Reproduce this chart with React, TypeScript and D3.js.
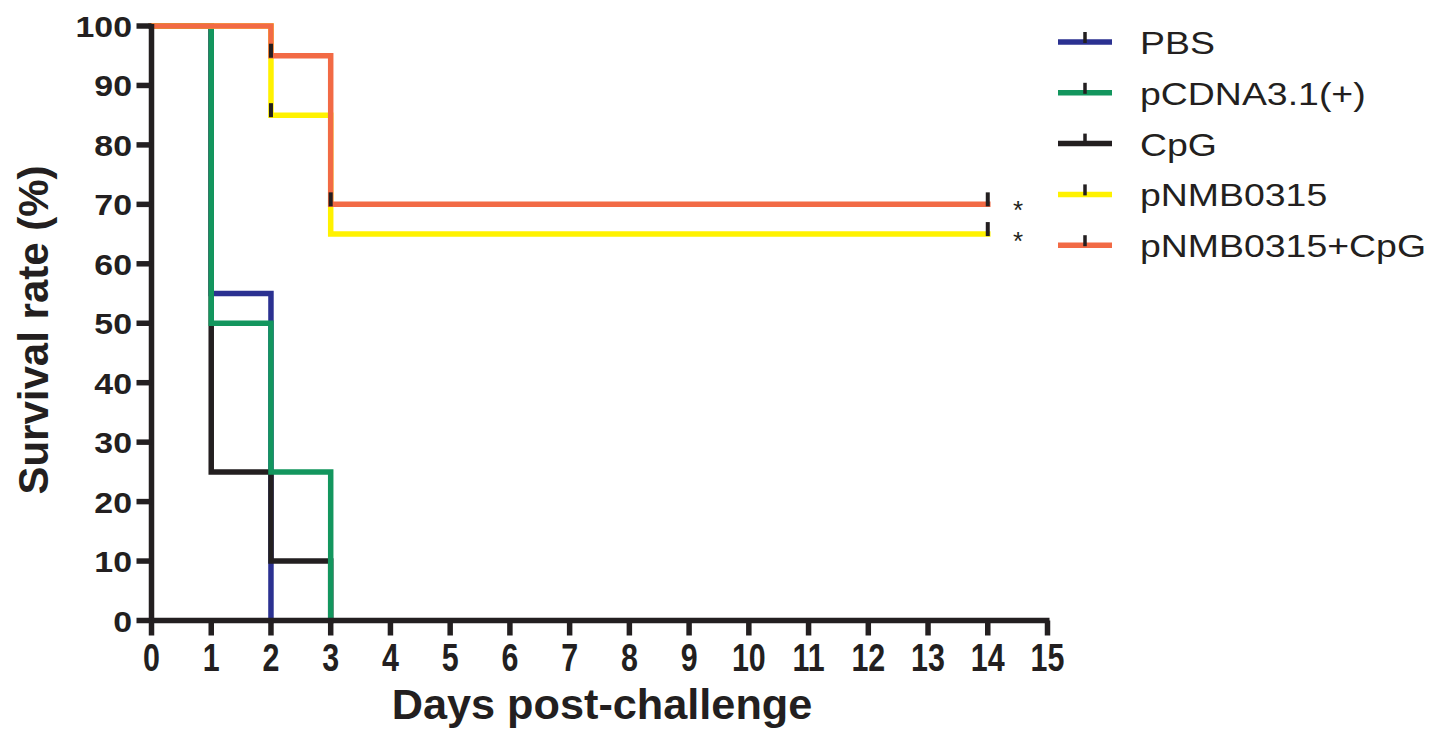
import React from "react";
import * as d3 from "d3";

const seriesNames = ["PBS", "pCDNA3.1(+)", "CpG", "pNMB0315", "pNMB0315+CpG"];
const seriesColors = ["#2b3191", "#13965e", "#231f20", "#fff200", "#f26a45"];

const pbsDays = [0, 1, 2];
const pbsSurvival = [100, 55, 0];
const pcdnaDays = [0, 1, 2, 3];
const pcdnaSurvival = [100, 50, 25, 0];
const cpgDays = [0, 1, 2, 3];
const cpgSurvival = [100, 25, 10, 0];
const pnmbDays = [0, 2, 3, 14];
const pnmbSurvival = [100, 85, 65, 65];
const comboDays = [0, 2, 3, 14];
const comboSurvival = [100, 95, 70, 70];

const pnmbCensorDays = [2, 14];
const comboCensorDays = [2, 3, 14];

const xTicks = d3.range(0, 16);
const yTicks = d3.range(0, 101, 10);

const xTitle = "Days post-challenge";
const yTitle = "Survival rate (%)";
const significance = "*";

// draw order: PBS, CpG, pCDNA, pNMB, combo
const drawOrder = [0, 2, 1, 3, 4];

const W = 1441;
const H = 756;
const X0 = 151.5;
const X1 = 1047.5;
const Y0 = 620.5;
const Y1 = 26;

export default function App() {
  const x = d3.scaleLinear().domain([0, 15]).range([X0, X1]);
  const y = d3.scaleLinear().domain([0, 100]).range([Y0, Y1]);

  const allDays = [pbsDays, pcdnaDays, cpgDays, pnmbDays, comboDays];
  const allSurv = [pbsSurvival, pcdnaSurvival, cpgSurvival, pnmbSurvival, comboSurvival];
  const censors: (number[] | null)[] = [null, null, null, pnmbCensorDays, comboCensorDays];

  const line = d3
    .line<[number, number]>()
    .x((d) => x(d[0]))
    .y((d) => y(d[1]))
    .curve(d3.curveStepAfter);

  const survAt = (i: number, t: number) => {
    const ds = allDays[i];
    let v = allSurv[i][0];
    for (let k = 0; k < ds.length; k++) if (ds[k] <= t) v = allSurv[i][k];
    return v;
  };

  const dark = "#231f20";
  const font = "'Liberation Sans', Arial, sans-serif";
  const lw = 5.5;

  const legendX0 = 1058;
  const legendX1 = 1112;
  const legendY = (i: number) => 42 + i * 50.8;

  return (
    <svg
      width={W}
      height={H}
      style={{ position: "absolute", left: 0, top: 0, background: "#fff" }}
      fontFamily={font}
    >
      {/* series */}
      {drawOrder.map((i) => {
        const pts: [number, number][] = allDays[i].map((d, k) => [d, allSurv[i][k]]);
        return (
          <path
            key={"s" + i}
            d={line(pts) || ""}
            fill="none"
            stroke={seriesColors[i]}
            strokeWidth={lw}
            strokeLinejoin="miter"
            strokeLinecap="square"
          />
        );
      })}
      {/* censor ticks */}
      {censors.map((cs, i) =>
        cs
          ? cs.map((t) => (
              <line
                key={"c" + i + "-" + t}
                x1={x(t)}
                x2={x(t)}
                y1={y(survAt(i, t)) - 12}
                y2={y(survAt(i, t)) + 2}
                stroke={dark}
                strokeWidth={4}
              />
            ))
          : null
      )}
      {/* axes */}
      <line x1={X0} x2={X0} y1={Y1 - 2} y2={Y0 + 2} stroke={dark} strokeWidth={lw} />
      <line x1={X0 - 2} x2={X1 + 2} y1={Y0} y2={Y0} stroke={dark} strokeWidth={lw} />
      {yTicks.map((t) => (
        <g key={"yt" + t}>
          <line x1={X0 - 15} x2={X0} y1={y(t)} y2={y(t)} stroke={dark} strokeWidth={lw} />
          <text
            transform={`translate(${132},${y(t) + 11}) scale(1.13,1)`}
            textAnchor="end"
            fontSize={30}
            fontWeight="bold"
            fill={dark}
          >
            {t}
          </text>
        </g>
      ))}
      {xTicks.map((t) => (
        <g key={"xt" + t}>
          <line x1={x(t)} x2={x(t)} y1={Y0} y2={Y0 + 15} stroke={dark} strokeWidth={lw} />
          <text
            transform={`translate(${x(t)},${671}) scale(0.8,1)`}
            textAnchor="middle"
            fontSize={38}
            fontWeight="bold"
            fill={dark}
          >
            {t}
          </text>
        </g>
      ))}
      {/* axis titles */}
      <text
        transform={`translate(602,719) scale(1.03,1)`}
        textAnchor="middle"
        fontSize={42}
        fontWeight="bold"
        fill={dark}
      >
        {xTitle}
      </text>
      <text
        transform={`translate(48,330) rotate(-90)`}
        textAnchor="middle"
        fontSize={42}
        fontWeight="bold"
        fill={dark}
      >
        {yTitle}
      </text>
      {/* significance */}
      <text x={1018} y={219} textAnchor="middle" fontSize={26} fill={dark}>
        {significance}
      </text>
      <text x={1018} y={250} textAnchor="middle" fontSize={26} fill={dark}>
        {significance}
      </text>
      {/* legend */}
      {seriesNames.map((n, i) => (
        <g key={"lg" + i}>
          <line
            x1={legendX0}
            x2={legendX1}
            y1={legendY(i)}
            y2={legendY(i)}
            stroke={seriesColors[i]}
            strokeWidth={lw}
          />
          <line
            x1={(legendX0 + legendX1) / 2}
            x2={(legendX0 + legendX1) / 2}
            y1={legendY(i) - 10}
            y2={legendY(i) + 1}
            stroke={dark}
            strokeWidth={3.5}
          />
          <text
            transform={`translate(1140,${legendY(i) + 12}) scale(1.17,1)`}
            fontSize={32}
            fill={dark}
          >
            {n}
          </text>
        </g>
      ))}
    </svg>
  );
}
